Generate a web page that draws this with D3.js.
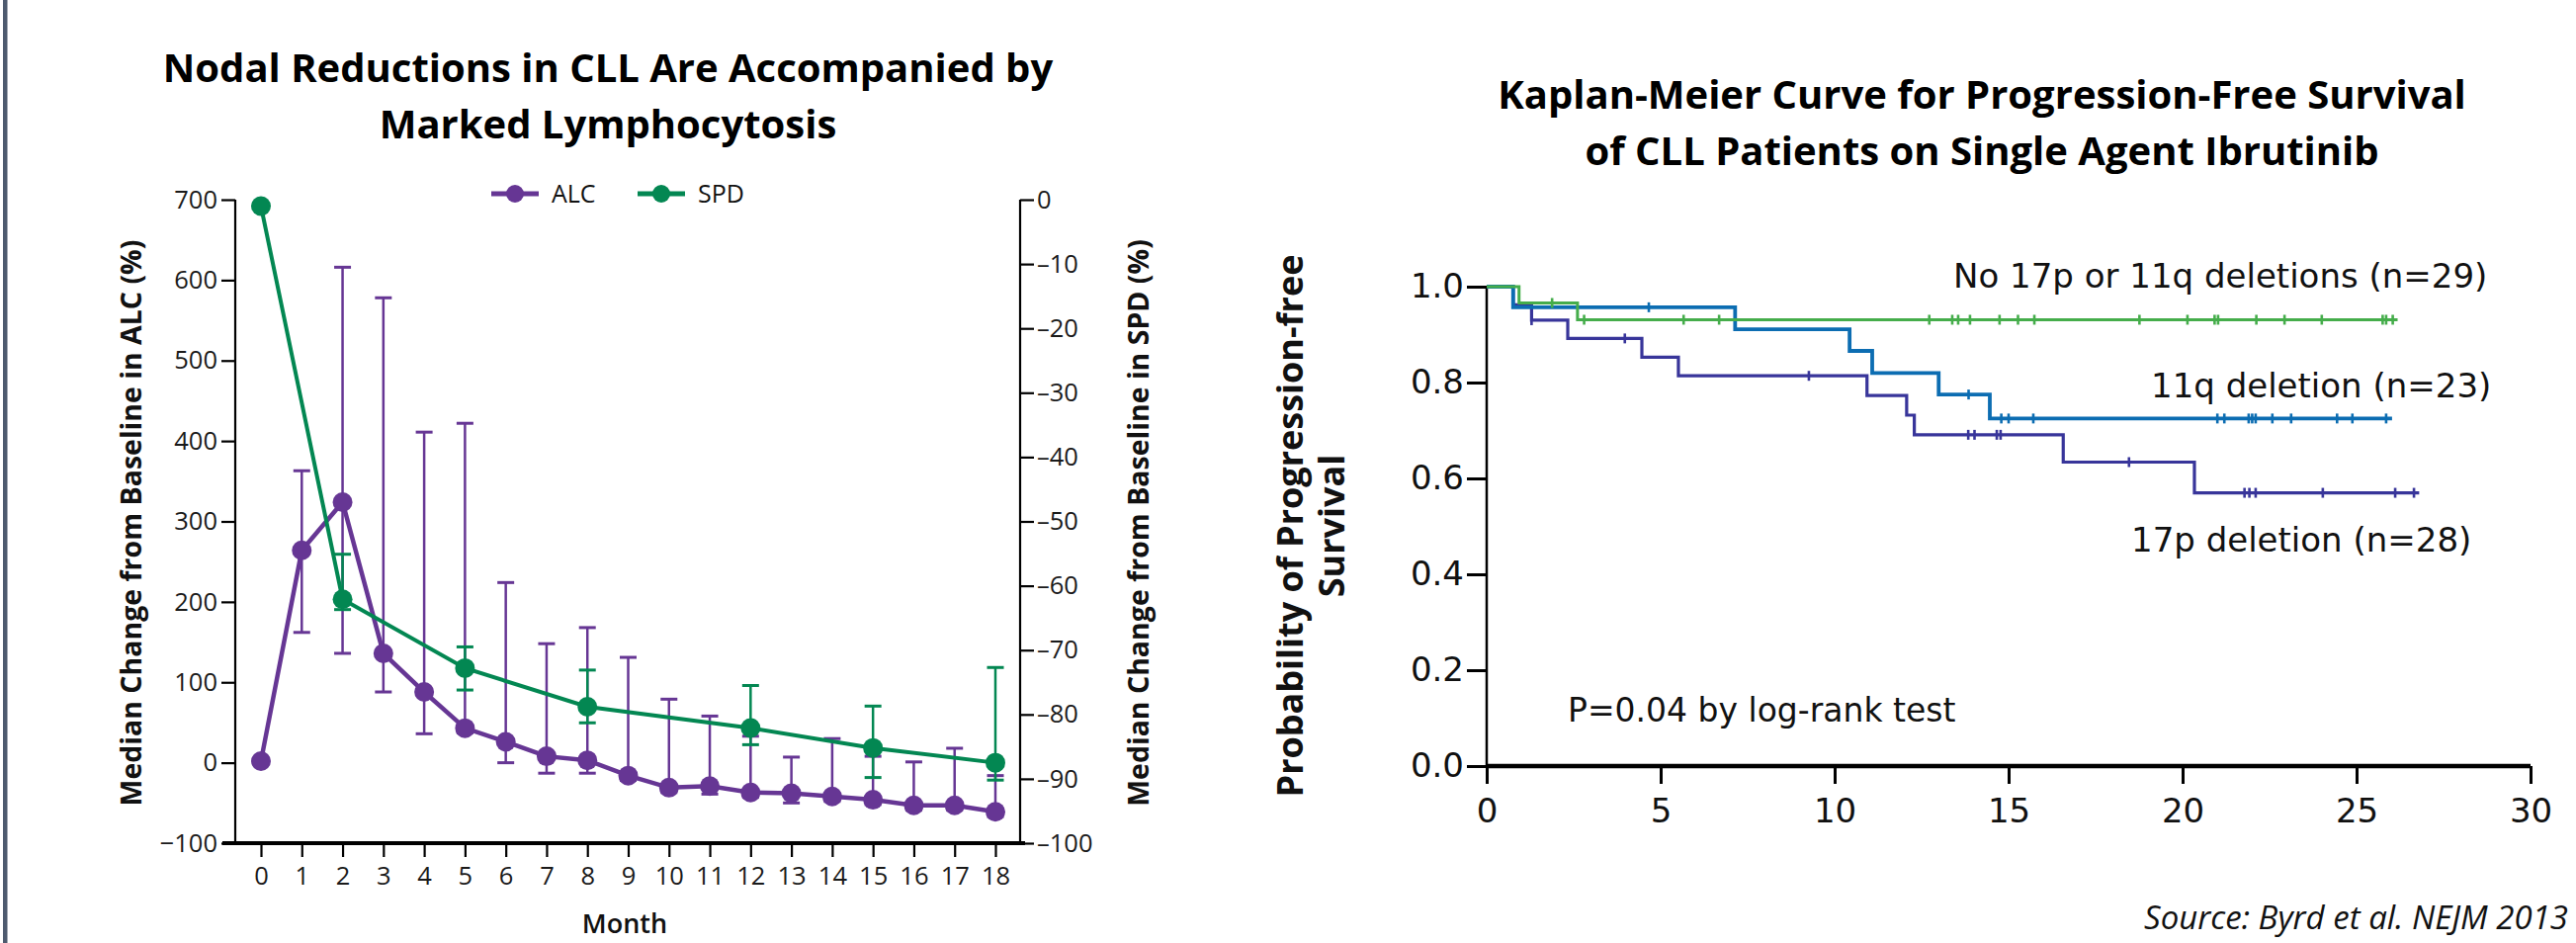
<!DOCTYPE html>
<html><head><meta charset="utf-8">
<script src="https://cdn.jsdelivr.net/npm/d3@7"></script>
<style>
body{margin:0;background:#fff;}
svg{display:block;}
</style>
</head><body>
<svg id="c" width="2606" height="954"></svg>
<script>
// ---------------- DATA ----------------
// Left chart: median % change from baseline
const months = [0,1,2,3,4,5,6,7,8,9,10,11,12,13,14,15,16,17,18];
const alcMedian = [2,264,324,136,88,43,26,8,3,-16,-31,-29,-37,-38,-42,-46,-53,-53,-61];
const alcUpper  = [null,363,616,578,411,422,224,148,168,131,79,58,33,7,30,8,1,18,-16];
const alcLower  = [null,162,136,88,36,37,0,-13,-13,-22,-37,-39,-43,-50,-48,-52,-59,-59,-67];
const spdMonths = [0,2,5,8,12,15,18];
const spdMedian = [-1,-62.1,-72.8,-78.8,-82.1,-85.2,-87.5];
const spdUpper  = [null,-55.1,-69.5,-73.1,-75.5,-78.7,-72.7];
const spdLower  = [null,-63.7,-76.2,-81.3,-84.7,-89.8,-90.2];
const alcTicks = [-100,0,100,200,300,400,500,600,700];
const spdTicks = [0,-10,-20,-30,-40,-50,-60,-70,-80,-90,-100];
const legendNames = ["ALC","SPD"];

// Right chart: Kaplan-Meier curves (time in months, survival after each drop)
const kmXTicks = [0,5,10,15,20,25,30];
const kmYTicks = [0.0,0.2,0.4,0.6,0.8,1.0];
const noDelTimes = [0,0.93,2.61,26.18];
const noDelSurv  = [1.0,0.966,0.931,0.931];
const noDelCens  = [1.88,2.80,5.66,6.68,12.72,13.38,13.55,13.89,14.74,15.27,15.74,18.76,20.14,20.92,21.02,22.12,22.93,24.0,25.75,25.85,26.04];
const q11Times = [0,0.76,7.14,10.43,11.08,12.99,14.46,26.02];
const q11Surv  = [1.0,0.957,0.911,0.866,0.820,0.775,0.725,0.725];
const q11Cens  = [4.66,13.85,14.79,15.0,15.71,21.0,21.2,21.9,22.0,22.1,22.58,23.12,24.44,24.88,25.85];
const p17Times = [0,0.76,1.29,2.33,4.46,5.51,10.93,12.07,12.29,16.57,20.34,26.8];
const p17Surv  = [1.0,0.962,0.930,0.892,0.853,0.814,0.773,0.732,0.691,0.634,0.570,0.570];
const p17Cens  = [1.29,3.97,9.26,13.84,14.02,14.66,14.77,18.46,21.78,21.92,22.1,24.03,26.11,26.65];
const kmNames = ["No 17p or 11q deletions (n=29)","11q deletion (n=23)","17p deletion (n=28)"];

// ---------------- DRAW ----------------
const svg = d3.select("#c");
svg.append("rect").attr("width",2606).attr("height",954).attr("fill","#fff");
svg.append("rect").attr("x",3).attr("y",0).attr("width",4.5).attr("height",954).attr("fill","#4d5a6e");

const PURPLE = "#663694", GREEN = "#038752";
const FONT = "'Open Sans', sans-serif";

// ===== Left chart =====
const x = d3.scaleLinear().domain([0,18]).range([264,1007]);
const yL = d3.scaleLinear().domain([-100,700]).range([853,202]);
const yR = d3.scaleLinear().domain([-100,0]).range([853,202]);

// titles
const t1 = svg.append("text").attr("text-anchor","middle")
  .attr("font-family",FONT).attr("font-weight",700).attr("font-size",40).attr("fill","#000");
t1.append("tspan").attr("x",615).attr("y",83).text("Nodal Reductions in CLL Are Accompanied by");
t1.append("tspan").attr("x",615).attr("y",140).text("Marked Lymphocytosis");

// axes
const axL = svg.append("g").attr("transform","translate(238,0)")
  .call(d3.axisLeft(yL).tickValues(alcTicks).tickSize(14).tickPadding(4).tickFormat(d3.format("d")));
const axR = svg.append("g").attr("transform","translate(1032,0)")
  .call(d3.axisRight(yR).tickValues(spdTicks).tickSize(14).tickPadding(3).tickFormat(d=>d===0?"0":"\u2013"+Math.abs(d)));
const axB = svg.append("g").attr("transform","translate(0,853)")
  .call(d3.axisBottom(x).tickValues(months).tickSize(14).tickPadding(10).tickFormat(d3.format("d")));
[axL,axR,axB].forEach(a=>{
  a.selectAll("text").attr("font-family",FONT).attr("font-size",25.5).attr("fill","#1a1a1a");
  a.selectAll(".tick line").attr("stroke","#000").attr("stroke-width",2.2);
  a.select(".domain").attr("stroke","#000").attr("stroke-width",2.2);
});
axB.select(".domain").remove();
axL.select(".domain").attr("d","M0,"+yL(700)+"V"+yL(-100));
axR.select(".domain").attr("d","M0,"+yR(0)+"V"+yR(-100));
svg.append("line").attr("x1",x(0)-39).attr("x2",1037).attr("y1",yL(-100)).attr("y2",yL(-100))
  .attr("stroke","#000").attr("stroke-width",4);

// axis labels
svg.append("text").attr("transform","translate(143,529) rotate(-90)").attr("text-anchor","middle")
  .attr("font-family",FONT).attr("font-weight",700).attr("font-size",28.5).attr("fill","#111")
  .text("Median Change from Baseline in ALC (%)");
svg.append("text").attr("transform","translate(1162,529) rotate(-90)").attr("text-anchor","middle")
  .attr("font-family",FONT).attr("font-weight",700).attr("font-size",28.5).attr("fill","#111")
  .text("Median Change from Baseline in SPD (%)");
svg.append("text").attr("x",632).attr("y",944).attr("text-anchor","middle")
  .attr("font-family",FONT).attr("font-weight",600).attr("font-size",27).attr("fill","#111").text("Month");

// error bars helper
function errBars(g, xs, lo, hi, sc, color){
  xs.forEach((m,i)=>{
    if(hi[i]!==null){
      g.append("line").attr("x1",x(m)).attr("x2",x(m)).attr("y1",sc(lo[i])).attr("y2",sc(hi[i]))
        .attr("stroke",color).attr("stroke-width",2.5);
      [lo[i],hi[i]].forEach(v=>{
        g.append("line").attr("x1",x(m)-8.5).attr("x2",x(m)+8.5).attr("y1",sc(v)).attr("y2",sc(v))
          .attr("stroke",color).attr("stroke-width",3);
      });
    }
  });
}
const gA = svg.append("g");
errBars(gA, months, alcLower, alcUpper, yL, PURPLE);
gA.append("path").datum(months.map((m,i)=>[m,alcMedian[i]]))
  .attr("d",d3.line().x(d=>x(d[0])).y(d=>yL(d[1])))
  .attr("fill","none").attr("stroke",PURPLE).attr("stroke-width",4.5);
gA.selectAll("circle").data(months.map((m,i)=>[m,alcMedian[i]])).join("circle")
  .attr("cx",d=>x(d[0])).attr("cy",d=>yL(d[1])).attr("r",10).attr("fill",PURPLE);

const gS = svg.append("g");
errBars(gS, spdMonths, spdLower, spdUpper, yR, GREEN);
gS.append("path").datum(spdMonths.map((m,i)=>[m,spdMedian[i]]))
  .attr("d",d3.line().x(d=>x(d[0])).y(d=>yR(d[1])))
  .attr("fill","none").attr("stroke",GREEN).attr("stroke-width",4);
gS.selectAll("circle").data(spdMonths.map((m,i)=>[m,spdMedian[i]])).join("circle")
  .attr("cx",d=>x(d[0])).attr("cy",d=>yR(d[1])).attr("r",10).attr("fill",GREEN);

// legend
const legX = [521,669], legC=[PURPLE,GREEN];
legendNames.forEach((n,i)=>{
  const g = svg.append("g").attr("transform","translate("+legX[i]+",196)");
  g.append("line").attr("x1",-24).attr("x2",24).attr("stroke",legC[i]).attr("stroke-width",5);
  g.append("circle").attr("r",9).attr("fill",legC[i]);
  g.append("text").attr("x",37).attr("y",9).attr("font-family",FONT).attr("font-size",25).attr("fill","#111").text(n);
});

// ===== Right chart =====
const kx = d3.scaleLinear().domain([0,30]).range([1504,2560]);
const ky = d3.scaleLinear().domain([0,1]).range([775,290]);

const t2 = svg.append("text").attr("text-anchor","middle")
  .attr("font-family",FONT).attr("font-weight",700).attr("font-size",40).attr("fill","#000");
t2.append("tspan").attr("x",2005).attr("y",110).text("Kaplan-Meier Curve for Progression-Free Survival");
t2.append("tspan").attr("x",2005).attr("y",167).text("of CLL Patients on Single Agent Ibrutinib");

const KFONT = "'DejaVu Sans', sans-serif";
const kAxY = svg.append("g").attr("transform","translate(1504,0)")
  .call(d3.axisLeft(ky).tickValues(kmYTicks).tickSize(20).tickPadding(3).tickFormat(d3.format(".1f")));
const kAxX = svg.append("g").attr("transform","translate(0,775)")
  .call(d3.axisBottom(kx).tickValues(kmXTicks).tickSize(18).tickPadding(15).tickFormat(d3.format("d")));
[kAxY,kAxX].forEach(a=>{
  a.selectAll("text").attr("font-family",KFONT).attr("font-size",34).attr("fill","#111");
  a.selectAll(".tick line").attr("stroke","#000").attr("stroke-width",3);
});
kAxY.select(".domain").attr("stroke","#000").attr("stroke-width",2.5).attr("d","M0,"+ky(1)+"V"+ky(0));
kAxX.select(".domain").attr("stroke","#000").attr("stroke-width",4.5).attr("d","M"+kx(0)+",0H"+kx(30));

// y label (two lines)
svg.append("text").attr("transform","translate(1318,532) rotate(-90)").attr("text-anchor","middle")
  .attr("font-family",FONT).attr("font-weight",700).attr("font-size",36).attr("fill","#111")
  .text("Probability of Progression-free");
svg.append("text").attr("transform","translate(1360,532) rotate(-90)").attr("text-anchor","middle")
  .attr("font-family",FONT).attr("font-weight",700).attr("font-size",36).attr("fill","#111")
  .text("Survival");

const curves = [
  {t:p17Times,s:p17Surv,c:p17Cens,col:"#38359a",w:3.2},
  {t:q11Times,s:q11Surv,c:q11Cens,col:"#0c6db2",w:3.8},
  {t:noDelTimes,s:noDelSurv,c:noDelCens,col:"#45ad4b",w:3}
];
const stepLine = d3.line().x(d=>kx(d[0])).y(d=>ky(d[1])).curve(d3.curveStepAfter);
curves.forEach(cv=>{
  const pts = cv.t.map((t,i)=>[t,cv.s[i]]);
  svg.append("path").datum(pts).attr("d",stepLine).attr("fill","none")
    .attr("stroke",cv.col).attr("stroke-width",cv.w);
  cv.c.forEach(ct=>{
    let lvl = cv.s[0];
    cv.t.forEach((t,i)=>{ if(t<=ct) lvl = cv.s[i]; });
    svg.append("line").attr("x1",kx(ct)).attr("x2",kx(ct)).attr("y1",ky(lvl)-5).attr("y2",ky(lvl)+5)
      .attr("stroke",cv.col).attr("stroke-width",2.6);
  });
});

// curve labels
const labs = [[1976,291],[2176,402],[2156,558]];
kmNames.forEach((n,i)=>{
  svg.append("text").attr("x",labs[i][0]).attr("y",labs[i][1])
    .attr("font-family",KFONT).attr("font-size",34).attr("fill","#111").text(n);
});
svg.append("text").attr("x",1586).attr("y",730)
  .attr("font-family",KFONT).attr("font-size",33).attr("fill","#111").text("P=0.04 by log-rank test");

svg.append("text").attr("x",2598).attr("y",940).attr("text-anchor","end")
  .attr("font-family",FONT).attr("font-style","italic").attr("font-size",33).attr("fill","#111")
  .text("Source: Byrd et al. NEJM 2013");
</script>
</body></html>
